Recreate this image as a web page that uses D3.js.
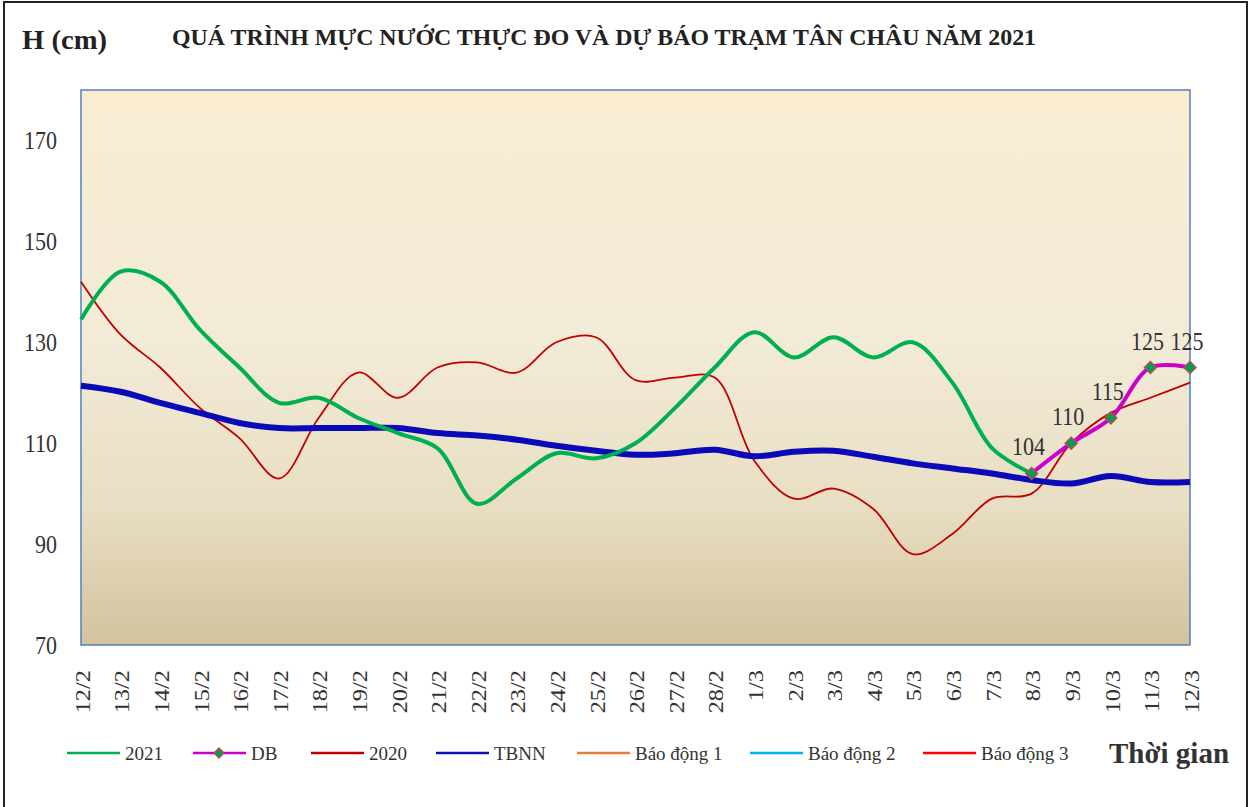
<!DOCTYPE html>
<html>
<head>
<meta charset="utf-8">
<script src="https://cdn.jsdelivr.net/npm/d3@7.9.0/dist/d3.min.js"></script>
<style>
  body { margin: 0; background: #fff; }
  svg { display: block; font-family: "Liberation Serif", "Times New Roman", serif; }
</style>
</head>
<body>
<svg id="chart"></svg>
<script>
const dates = ['12/2','13/2','14/2','15/2','16/2','17/2','18/2','19/2','20/2','21/2','22/2','23/2','24/2','25/2',
  '26/2','27/2','28/2','1/3','2/3','3/3','4/3','5/3','6/3','7/3','8/3','9/3','10/3','11/3','12/3'];

const h2021 = [134.5,144,142,132.5,125,118,119,115,112,109,98,103,108,107,110,117,125,132,127,131,127,130,122,109,104];
const hDB = [104,110,115,125,125];
const dbStart = 24;
const h2020 = [142,131.5,125,117,111,103,115,124,119,125,126,124,130,131,122.5,123,123,106.5,99,101,97,88,92,99,100,110,116,119,122];
const hTBNN = [121.4,120.2,118,116,114,113,113,113,113,112,111.5,110.7,109.5,108.5,107.7,108,108.7,107.4,108.3,108.5,107.3,106,105,104,102.7,102,103.5,102.3,102.3];

const yTicks = [70, 90, 110, 130, 150, 170];

const legendItems = [
  { name: '2021', color: '#00B050', x: 67, marker: false },
  { name: 'DB', color: '#CC00CC', x: 193, marker: true },
  { name: '2020', color: '#C00000', x: 311, marker: false },
  { name: 'TBNN', color: '#1010B8', x: 436, marker: false },
  { name: 'Báo động 1', color: '#ED7D31', x: 577, marker: false },
  { name: 'Báo động 2', color: '#00B0F0', x: 750, marker: false },
  { name: 'Báo động 3', color: '#FF0000', x: 923, marker: false },
];

const width = 1253;
const height = 807;
const plot = { left: 81, right: 1190, top: 90, bottom: 645 };

const svg = d3.select('#chart')
  .attr('width', width)
  .attr('height', height);

// outer frame
svg.append('rect')
  .attr('x', 4).attr('y', 2)
  .attr('width', 1243).attr('height', 830)
  .attr('fill', 'none')
  .attr('stroke', '#222')
  .attr('stroke-width', 2);

// SCALES
const xScale = d3.scalePoint()
  .domain(dates)
  .range([plot.left, plot.right]);

const yScale = d3.scaleLinear()
  .domain([70, 180])
  .range([plot.bottom, plot.top]);

// BACKGROUND
const grad = svg.append('defs').append('linearGradient')
  .attr('id', 'bg')
  .attr('x1', 0).attr('y1', 0).attr('x2', 0).attr('y2', 1);
grad.append('stop').attr('offset', '0%').attr('stop-color', '#FAEDD2');
grad.append('stop').attr('offset', '45%').attr('stop-color', '#F2EBD7');
grad.append('stop').attr('offset', '75%').attr('stop-color', '#E8DEC3');
grad.append('stop').attr('offset', '100%').attr('stop-color', '#D3C39E');

svg.append('rect')
  .attr('x', plot.left).attr('y', plot.top)
  .attr('width', plot.right - plot.left)
  .attr('height', plot.bottom - plot.top)
  .attr('fill', 'url(#bg)')
  .attr('stroke', '#4F81BD')
  .attr('stroke-width', 1.5);

// AXES LABELS
svg.append('g')
  .selectAll('text')
  .data(yTicks)
  .join('text')
  .attr('transform', (d) => `translate(57,${yScale(d)}) scale(1,1.15)`)
  .attr('dy', '0.35em')
  .attr('text-anchor', 'end')
  .attr('font-size', 22)
  .attr('fill', '#333')
  .text((d) => d);

svg.append('g')
  .selectAll('text')
  .data(dates)
  .join('text')
  .attr('transform', (d) => `translate(${xScale(d) + 2},670) rotate(-90) scale(1.22,1)`)
  .attr('text-anchor', 'end')
  .attr('dominant-baseline', 'central')
  .attr('font-size', 20)
  .attr('fill', '#333')
  .text((d) => d);

// LINES
const line = d3.line()
  .x((d) => xScale(d.date))
  .y((d) => yScale(d.value))
  .curve(d3.curveCatmullRom.alpha(0.5));

const toPoints = (values, offset = 0) =>
  values.map((v, i) => ({ date: dates[i + offset], value: v }));

svg.append('path')
  .datum(toPoints(h2020))
  .attr('d', line)
  .attr('fill', 'none')
  .attr('stroke', '#C00000')
  .attr('stroke-width', 1.8);

svg.append('path')
  .datum(toPoints(hTBNN))
  .attr('d', line)
  .attr('fill', 'none')
  .attr('stroke', '#0A0AB8')
  .attr('stroke-width', 6);

svg.append('path')
  .datum(toPoints(h2021))
  .attr('d', line)
  .attr('fill', 'none')
  .attr('stroke', '#00B050')
  .attr('stroke-width', 4);

const dbPoints = toPoints(hDB, dbStart);

svg.append('path')
  .datum(dbPoints)
  .attr('d', line)
  .attr('fill', 'none')
  .attr('stroke', '#CC00CC')
  .attr('stroke-width', 4);

const diamond = d3.symbol().type(d3.symbolDiamond2).size(90);

svg.append('g')
  .selectAll('path')
  .data(dbPoints)
  .join('path')
  .attr('transform', (d) => `translate(${xScale(d.date)},${yScale(d.value)})`)
  .attr('d', diamond)
  .attr('fill', '#00A050')
  .attr('stroke', '#B0504D')
  .attr('stroke-width', 1.5);

svg.append('g')
  .selectAll('text')
  .data(dbPoints)
  .join('text')
  .attr('transform', (d) => `translate(${xScale(d.date) - 3},${yScale(d.value) - 18}) scale(1,1.12)`)
  .attr('text-anchor', 'middle')
  .attr('font-size', 22)
  .attr('fill', '#333')
  .text((d) => d.value);

// TITLES
svg.append('text')
  .attr('x', 22).attr('y', 49)
  .attr('font-size', 27)
  .attr('font-weight', 'bold')
  .attr('fill', '#222')
  .attr('textLength', 85)
  .attr('lengthAdjust', 'spacingAndGlyphs')
  .text('H (cm)');

svg.append('text')
  .attr('x', 172).attr('y', 45)
  .attr('font-size', 24)
  .attr('font-weight', 'bold')
  .attr('fill', '#222')
  .attr('textLength', 864)
  .attr('lengthAdjust', 'spacingAndGlyphs')
  .text('QUÁ TRÌNH MỰC NƯỚC THỰC ĐO VÀ DỰ BÁO TRẠM TÂN CHÂU NĂM 2021');

svg.append('text')
  .attr('x', 1109).attr('y', 763)
  .attr('font-size', 29)
  .attr('font-weight', 'bold')
  .attr('fill', '#333')
  .text('Thời gian');

// LEGEND
const legend = svg.append('g')
  .selectAll('g')
  .data(legendItems)
  .join('g')
  .attr('transform', (d) => `translate(${d.x},753)`);

legend.append('line')
  .attr('x1', 0).attr('x2', 53)
  .attr('stroke', (d) => d.color)
  .attr('stroke-width', 2.5);

legend.filter((d) => d.marker)
  .append('path')
  .attr('transform', 'translate(26,0)')
  .attr('d', d3.symbol().type(d3.symbolDiamond2).size(60))
  .attr('fill', '#00A050')
  .attr('stroke', '#B0504D')
  .attr('stroke-width', 1.5);

legend.append('text')
  .attr('x', 58)
  .attr('y', 7)
  .attr('font-size', 19)
  .attr('fill', '#333')
  .text((d) => d.name);
</script>
</body>
</html>
